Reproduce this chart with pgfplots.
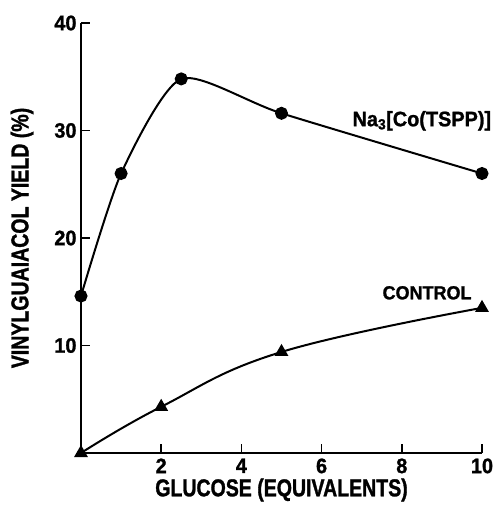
\documentclass[border=0pt]{standalone}
\usepackage{pgfplots}
\pgfplotsset{compat=1.18}
\usepackage{fontspec}
\setmainfont{Liberation Sans}[UprightFont={* Bold}, FakeStretch=0.8, FakeBold=1.2]
\newfontfamily\wide{Liberation Sans}[UprightFont={* Bold}, FakeStretch=0.95, FakeBold=1.2]
\begin{document}
\begin{tikzpicture}[x=1bp,y=1bp]
\useasboundingbox (-81bp,-55bp) rectangle (415bp,453bp);
\begin{axis}[
  scale only axis, width=401bp, height=430bp,
  xmin=0, xmax=10, ymin=0, ymax=40,
  axis lines=left, axis line style={-, line width=2bp},
  xtick={2,4,6,8,10}, ytick={10,20,30,40},
  tick align=inside, major tick length=9bp,
  tick style={line width=1.6bp, black},
  /pgf/number format/assume math mode=true,
  ticklabel style={font=\wide\fontsize{21}{21}\selectfont},
  xticklabel style={yshift=-2bp},
  yticklabel style={xshift=-1bp},
  xlabel={GLUCOSE (EQUIVALENTS)},
  ylabel={VINYLGUAIACOL YIELD (\%)},
  label style={font=\fontsize{24.5}{24.5}\selectfont},
  xlabel style={at={(axis description cs:0.5,-0.086)}, anchor=center},
  ylabel style={at={(axis description cs:-0.147,0.5)}, anchor=center},
  clip=false,
]
\addplot[black, line width=2bp, smooth, tension=0.4, mark=*, mark size=5.5bp,
  mark options={solid, fill=black}]
  coordinates {(0,14.6) (1,26.0) (2.5,34.8) (5,31.6) (10,26.0)};
\addplot[black, line width=2bp, smooth, tension=0.7, mark=triangle*, mark size=6bp,
  mark options={solid, fill=black}]
  coordinates {(0,0) (2,4.3) (5,9.4) (10,13.5)};
\node[font=\wide\fontsize{21}{21}\selectfont] at (axis cs:8.5,30.9) {Na\textsubscript{3}[Co(TSPP)]};
\node[font=\wide\fontsize{19}{19}\selectfont] at (axis cs:8.63,14.9) {CONTROL};
\end{axis}
\end{tikzpicture}
\end{document}
